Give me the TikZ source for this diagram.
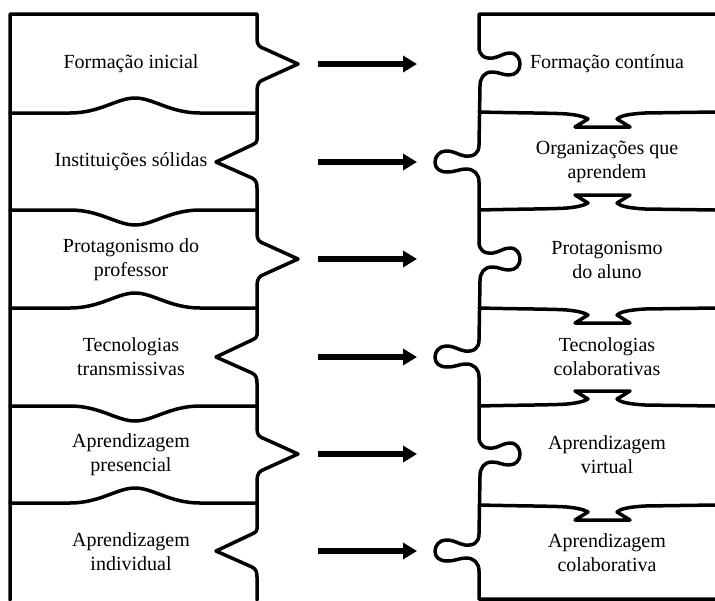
\documentclass[tikz,border=0pt]{standalone}
\usepackage{fontspec}
\setmainfont{Liberation Serif}
\usetikzlibrary{arrows.meta}
\tikzset{
  outline/.style={line width=3.5pt,line join=round,line cap=round},
  lbl/.style={align=center,font=\fontsize{20}{24}\selectfont,inner sep=0pt},
  arr/.style={line width=5.5pt,-{Triangle[length=14pt,width=16pt]}},
  lefttab/.style={insert path={-- (257,#1-26) .. controls (257,#1-19) and (259,#1-17) .. (265,#1-15) -- (298,#1) -- (265,#1+15) .. controls (259,#1+17) and (257,#1+20) .. (257,#1+27)}},
  leftnotch/.style={insert path={-- (257,#1-22) .. controls (257,#1-20) and (256,#1-19) .. (252,#1-17) -- (216,#1) -- (252,#1+16) .. controls (256,#1+18) and (257,#1+21) .. (257,#1+26)}},
  lbumpup/.style={insert path={-- (70,#1) .. controls (100,#1) and (117,#1-15) .. (135,#1-15) .. controls (153,#1-15) and (170,#1) .. (200,#1) -- (257,#1)}},
  lbumpdown/.style={insert path={-- (70,#1) .. controls (100,#1) and (117,#1+15) .. (135,#1+15) .. controls (153,#1+15) and (170,#1) .. (200,#1) -- (257,#1)}},
  rsock/.style={insert path={-- (479,#1-17) .. controls (479,#1-9) and (484,#1-5) .. (493,#1-6) .. controls (500,#1-7) and (503,#1-11) .. (510,#1-11) .. controls (517,#1-11) and (520,#1-5) .. (520,#1) .. controls (520,#1+6) and (516,#1+11) .. (509,#1+11) .. controls (502,#1+11) and (499,#1+8) .. (492,#1+8) .. controls (484,#1+8) and (480,#1+14) .. (480,#1+22)}},
  rknob/.style={insert path={-- (479,#1-17) .. controls (479,#1-9) and (474,#1-5) .. (465,#1-6) .. controls (458,#1-7) and (455,#1-11) .. (446,#1-11) .. controls (439,#1-11) and (435,#1-5) .. (435,#1) .. controls (435,#1+6) and (439,#1+10) .. (447,#1+10) .. controls (456,#1+10) and (459,#1+7) .. (466,#1+7) .. controls (474,#1+7) and (479,#1+12) .. (479,#1+20)}},
  rdown/.style={insert path={.. controls (520,#1+1) and (555,#1+1) .. (567,#1+2) .. controls (578,#1+3) and (585,#1+5) .. (588,#1+7) -- (575,#1+15) -- (630,#1+15) -- (617,#1+7) .. controls (620,#1+4) and (628,#1+2) .. (645,#1+1) -- (715,#1)}},
  rup/.style={insert path={.. controls (520,#1-1) and (555,#1-1) .. (567,#1-2) .. controls (578,#1-3) and (585,#1-5) .. (588,#1-7) -- (575,#1-15) -- (630,#1-15) -- (617,#1-7) .. controls (620,#1-4) and (628,#1-2) .. (645,#1-1) -- (715,#1)}}
}
\begin{document}
\begin{tikzpicture}[x=1pt,y=-1pt]
\useasboundingbox (0,0) rectangle (715,600);
% left column
\draw[outline] (10,600) -- (10,14) -- (257,14) [lefttab=64] [leftnotch=162] [lefttab=259] [leftnotch=357] [lefttab=454] [leftnotch=551] -- (257,600);
\draw[outline] (10,113) [lbumpup=113];
\draw[outline] (10,210) [lbumpdown=210];
\draw[outline] (10,308) [lbumpup=308];
\draw[outline] (10,406) [lbumpdown=406];
\draw[outline] (10,503) [lbumpup=503];
% right column
\draw[outline] (715,14) -- (479,14) [rsock=64] [rknob=162] [rsock=259] [rknob=357] [rsock=454] [rknob=551] -- (479,599) -- (715,599);
\draw[outline] (479,112) [rdown=112];
\draw[outline] (479,210) [rup=210];
\draw[outline] (479,308) [rdown=308];
\draw[outline] (479,406) [rup=406];
\draw[outline] (479,505) [rdown=505];
% texts
\node[lbl] (l1) at (131,64) {Formação inicial};
\node[lbl] (l2) at (131,162) {Instituições sólidas};
\node[lbl] (l3) at (131,260) {Protagonismo do\\professor};
\node[lbl] (l4) at (131,357) {Tecnologias\\transmissivas};
\node[lbl] (l5) at (131,455) {Aprendizagem\\presencial};
\node[lbl] (l6) at (131,552) {Aprendizagem\\individual};
\node[lbl] (r1) at (607,64) {Formação contínua};
\node[lbl] (r2) at (607,162) {Organizações que\\aprendem};
\node[lbl] (r3) at (607,260) {Protagonismo\\do aluno};
\node[lbl] (r4) at (607,357) {Tecnologias\\colaborativas};
\node[lbl] (r5) at (607,455) {Aprendizagem\\virtual};
\node[lbl] (r6) at (607,553) {Aprendizagem\\colaborativa};
% arrows
\foreach \i/\c in {1/64,2/162,3/259,4/357,5/454,6/551}{
  \coordinate (as\i) at (318,\c);
  \coordinate (ae\i) at (417,\c);
  \draw[arr] (as\i) -- (ae\i);
}
\end{tikzpicture}
\end{document}
